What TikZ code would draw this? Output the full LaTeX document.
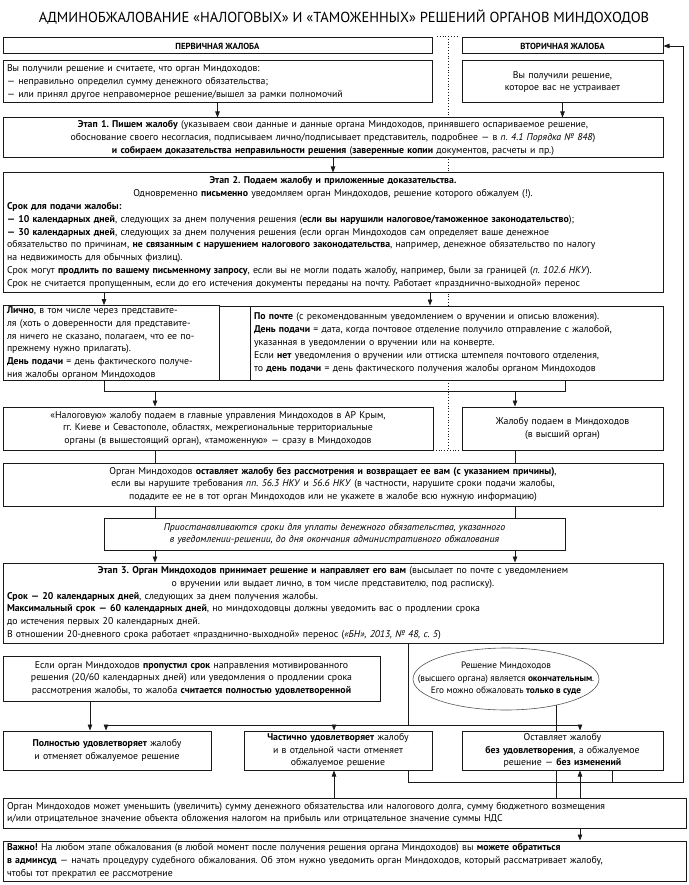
\documentclass[tikz,border=0pt]{standalone}
\usepackage{fontspec}
\setmainfont{PT Sans}
\usepackage{tikz}
\usetikzlibrary{arrows.meta,positioning,shapes.geometric,backgrounds,calc}
\usepackage{xcolor}
\definecolor{mdline}{HTML}{1A1A1A}
\definecolor{mdgrey}{HTML}{555555}
\setlength{\parindent}{0pt}
\frenchspacing
\newcommand{\centred}[1]{\makebox[\hsize]{#1}}

\tikzset{
  mdbox/.style={draw=mdline, line width=1pt, fill=white, inner xsep=4pt, inner ysep=1pt,
    font=\fontsize{9.8}{12.8}\selectfont},
  mdleft/.style={mdbox, align=left},
  mdcenter/.style={mdbox, align=center},
  mdhead/.style={mdcenter, minimum height=16, font=\fontsize{8.8}{11}\selectfont\bfseries},
  mdlink/.style={draw=mdline, line width=0.7pt},
  mdarrow/.style={mdlink, -{Triangle[length=6pt,width=4.5pt]}},
  mdsep/.style={draw=mdline, dotted, line width=0.8pt},
}

\begin{document}
\begin{tikzpicture}[x=1pt,y=-1pt]
\useasboundingbox (0,0) rectangle (688,885);

\node[font=\fontsize{14.5}{16}\selectfont] (title) at (344,17)
  {АДМИНОБЖАЛОВАНИЕ «НАЛОГОВЫХ» И «ТАМОЖЕННЫХ» РЕШЕНИЙ ОРГАНОВ МИНДОХОДОВ};

% two columns
\node[mdhead, minimum width=429] (hdrL) at (217.5,46) {ПЕРВИЧНАЯ ЖАЛОБА};
\node[mdhead, minimum width=201] (hdrR) at (562.5,46) {ВТОРИЧНАЯ ЖАЛОБА};

\node[mdleft, text width=421, minimum height=42] (boxA) at (217.5,82)
  {Вы получили решение и считаете, что орган Миндоходов:\\
   — неправильно определил сумму денежного обязательства;\\
   — или принял другое неправомерное решение/вышел за рамки полномочий};
\node[mdcenter, text width=193, minimum height=42] (boxB) at (562.5,82)
  {Вы получили решение,\\ которое вас не устраивает};

\node[mdcenter, text width=652, minimum height=40] (etap1) at (333,138)
  {\textbf{Этап 1. Пишем жалобу} (указываем свои данные и данные органа Миндоходов, принявшего оспариваемое решение,\\
   обоснование своего несогласия, подписываем лично/подписывает представитель, подробнее — в \textit{п. 4.1 Порядка № 848})\\
   \textbf{и собираем доказательства неправильности решения} (\textbf{заверенные копии} документов, расчеты и пр.)};

\node[mdleft, text width=652, minimum height=119] (etap2) at (333,232.5)
  {\centred{\textbf{Этап 2. Подаем жалобу и приложенные доказательства.}}\\
   \centred{Одновременно \textbf{письменно} уведомляем орган Миндоходов, решение которого обжалуем (!).}\\
   \textbf{Срок для подачи жалобы:}\\
   \textbf{— 10 календарных дней}, следующих за днем получения решения (\textbf{если вы нарушили налоговое/таможенное законодательство});\\
   \textbf{— 30 календарных дней}, следующих за днем получения решения (если орган Миндоходов сам определяет ваше денежное\\
   обязательство по причинам, \textbf{не связанным с нарушением налогового законодательства}, например, денежное обязательство по налогу\\
   на недвижимость для обычных физлиц).\\
   Срок могут \textbf{продлить по вашему письменному запросу}, если вы не могли подать жалобу, например, были за границей (\textit{п. 102.6 НКУ}).\\
   Срок не считается пропущенным, если до его истечения документы переданы на почту. Работает «празднично-выходной» перенос};

\node[mdleft, text width=208, minimum height=74] (lichno) at (111,343)
  {\textbf{Лично}, в том числе через представите-\\
   ля (хоть о доверенности для представите-\\
   ля ничего не сказано, полагаем, что ее по-\\
   прежнему нужно прилагать).\\
   \textbf{День подачи} = день фактического получе-\\
   ния жалобы органом Миндоходов};
\node[mdbox, minimum width=31, minimum height=74] (gap) at (234.5,343) {};
\node[mdleft, text width=405, minimum height=74] (pochta) at (456.5,343)
  {\textbf{По почте} (с рекомендованным уведомлением о вручении и описью вложения).\\
   \textbf{День подачи} = дата, когда почтовое отделение получило отправление с жалобой,\\
   указанная в уведомлении о вручении или на конверте.\\
   Если \textbf{нет} уведомления о вручении или оттиска штемпеля почтового отделения,\\
   то \textbf{день подачи} = день фактического получения жалобы органом Миндоходов};

\node[mdcenter, text width=422, minimum height=43] (nalog) at (218,428.5)
  {«Налоговую» жалобу подаем в главные управления Миндоходов в АР Крым,\\
   гг. Киеве и Севастополе, областях, межрегиональные территориальные\\
   органы (в вышестоящий орган), «таможенную» — сразу в Миндоходов};
\node[mdcenter, text width=193, minimum height=43] (vysh) at (562.5,428.5)
  {Жалобу подаем в Миндоходов\\ (в высший орган)};

\node[mdcenter, text width=652, minimum height=43] (bezrasm) at (333,484.5)
  {Орган Миндоходов \textbf{оставляет жалобу без рассмотрения и возвращает ее вам (с указанием причины)},\\
   если вы нарушите требования \textit{пп. 56.3 НКУ} и \textit{56.6 НКУ} (в частности, нарушите сроки подачи жалобы,\\
   подадите ее не в тот орган Миндоходов или не укажете в жалобе всю нужную информацию)};

\node[mdcenter, text width=453, minimum height=32, font=\fontsize{9.8}{12.8}\selectfont\itshape] (priost) at (334.5,534)
  {Приостанавливаются сроки для уплаты денежного обязательства, указанного\\
   в уведомлении-решении, до дня окончания административного обжалования};

\node[mdleft, text width=652, minimum height=80] (etap3) at (333,603)
  {\centred{\textbf{Этап 3. Орган Миндоходов принимает решение и направляет его вам} (высылает по почте с уведомлением}\\
   \centred{о вручении или выдает лично, в том числе представителю, под расписку).}\\
   \textbf{Срок — 20 календарных дней}, следующих за днем получения жалобы.\\
   \textbf{Максимальный срок — 60 календарных дней}, но миндоходовцы должны уведомить вас о продлении срока\\
   до истечения первых 20 календарных дней.\\
   В отношении 20-дневного срока работает «празднично-выходной» перенос (\textit{«БН», 2013, № 48, с. 5})};

\node[mdcenter, text width=369, minimum height=45] (esli) at (191.5,678.5)
  {Если орган Миндоходов \textbf{пропустил срок} направления мотивированного\\
   решения (20/60 календарных дней) или уведомления о продлении срока\\
   рассмотрения жалобы, то жалоба \textbf{считается полностью удовлетворенной}};
\node[ellipse, draw=mdgrey, line width=0.6pt, fill=white, minimum width=186, minimum height=62] (final) at (506,679) {};
\node[align=center, font=\fontsize{9.3}{12.6}\selectfont] (finaltxt) at (final)
  {Решение Миндоходов\\ (высшего органа) является \textbf{окончательным}.\\ Его можно обжаловать \textbf{только в суде}};

\node[mdcenter, text width=200, minimum height=39] (poln) at (107,750.5)
  {\textbf{Полностью удовлетворяет} жалобу\\ и отменяет обжалуемое решение};
\node[mdcenter, text width=180, minimum height=39] (chast) at (338,750.5)
  {\textbf{Частично удовлетворяет} жалобу\\ и в отдельной части отменяет\\ обжалуемое решение};
\node[mdcenter, text width=193, minimum height=39] (ostav) at (562.5,750.5)
  {Оставляет жалобу\\ \textbf{без удовлетворения}, а обжалуемое\\ решение — \textbf{без изменений}};

\node[mdleft, text width=675, minimum height=30] (umen) at (344.5,813)
  {Орган Миндоходов может уменьшить (увеличить) сумму денежного обязательства или налогового долга, сумму бюджетного возмещения\\
   и/или отрицательное значение объекта обложения налогом на прибыль или отрицательное значение суммы НДС};
\node[mdleft, text width=675, minimum height=40] (vazhno) at (344.5,861)
  {\textbf{Важно!} На любом этапе обжалования (в любой момент после получения решения органа Миндоходов) вы \textbf{можете обратиться}\\
   \textbf{в админсуд} — начать процедуру судебного обжалования. Об этом нужно уведомить орган Миндоходов, который рассматривает жалобу,\\
   чтобы тот прекратил ее рассмотрение};

% guides for the connectors
\coordinate (colLich) at (104,0);
\coordinate (colPost) at (430,0);
\coordinate (colBrR) at (565,0);
\coordinate (colNal) at (155,0);
\coordinate (colVys) at (515,0);
\coordinate (colEt3) at (408,0);
\coordinate (colEsli) at (90,0);
\coordinate (colPoln) at (106,0);
\coordinate (colChast) at (334,0);
\coordinate (colOst) at (580,0);
\coordinate (colFin) at (556,0);
\coordinate (colOstR) at (612,0);
\coordinate (colRet) at (683,0);
\coordinate (rowBr) at (0,391);
\coordinate (rowDist) at (0,725);
\coordinate (rowRet) at (0,782);

\draw[mdarrow] (boxA.south) -- (boxA.south |- etap1.north);
\draw[mdarrow] (boxB.south) -- (boxB.south |- etap1.north);
\draw[mdarrow] (etap1.south) -- (etap2.north);
\draw[mdarrow] (etap2.south -| colLich) -- (lichno.north -| colLich);
\draw[mdarrow] (etap2.south -| colPost) -- (pochta.north -| colPost);
\draw[mdlink] (lichno.south -| colLich) |- (rowBr -| colBrR) -- (pochta.south -| colBrR);
\draw[mdarrow] (rowBr -| colNal) -- (nalog.north -| colNal);
\draw[mdarrow] (rowBr -| colVys) -- (vysh.north -| colVys);
\draw[mdlink] (nalog.south -| colNal) -- (bezrasm.north -| colNal);
\draw[mdlink] (vysh.south -| colVys) -- (bezrasm.north -| colVys);
\foreach \c in {colNal,colVys} {
  \draw[mdlink] (bezrasm.south -| \c) -- (priost.north -| \c);
  \draw[mdarrow] (priost.south -| \c) -- (etap3.north -| \c);
}
\draw[mdlink] (etap3.south -| colEt3) -- (rowDist -| colEt3);
\draw[mdlink] (rowDist -| colPoln) -- (rowDist -| colOst);
\draw[mdarrow] (rowDist -| colPoln) -- (poln.north -| colPoln);
\draw[mdarrow] (rowDist -| colChast) -- (chast.north -| colChast);
\draw[mdarrow] (rowDist -| colOst) -- (ostav.north -| colOst);
\draw[mdarrow] (esli.south -| colEsli) -- (poln.north -| colEsli);
\draw[mdarrow] (chast.south -| colEt3) |- (rowRet -| colRet) |- (hdrR.east);
\draw[mdlink] (ostav.south -| colOstR) -- (rowRet -| colOstR);
\draw[mdarrow] (umen.north -| colChast) -- (chast.south -| colChast);
\draw[mdarrow] (umen.north -| colOst) -- (ostav.south -| colOst);
\draw[mdarrow] (umen.south -| colOst) -- (vazhno.north -| colOst);

\begin{scope}[on background layer]
\draw[mdlink] (final.center -| colFin) -- (umen.north -| colFin);
\draw[mdsep] (437,36) -- (458,36) (448,36) -- (448,450) (433,450) -- (460,450);
\end{scope}
\end{tikzpicture}
\end{document}
